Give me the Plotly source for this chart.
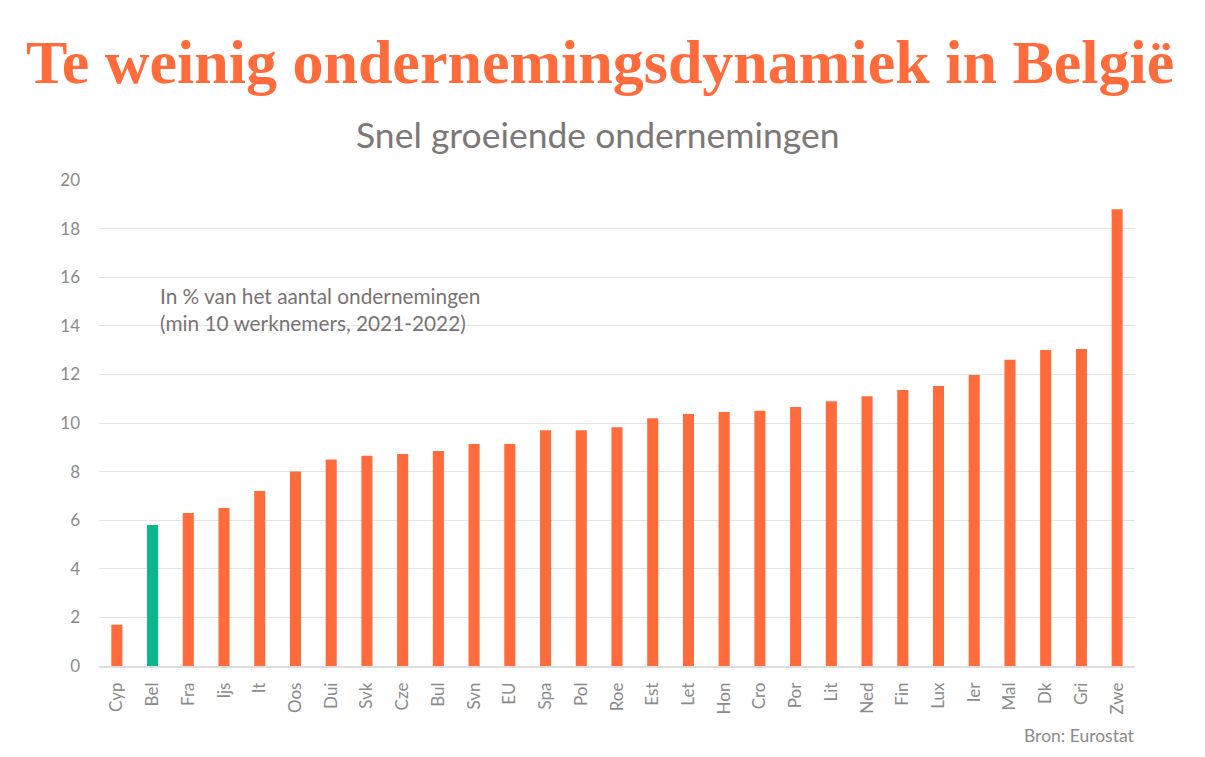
import plotly.graph_objects as go

categories = ["Cyp", "Bel", "Fra", "Ijs", "It", "Oos", "Dui", "Svk", "Cze", "Bul",
              "Svn", "EU", "Spa", "Pol", "Roe", "Est", "Let", "Hon", "Cro", "Por",
              "Lit", "Ned", "Fin", "Lux", "Ier", "Mal", "Dk", "Gri", "Zwe"]
values = [1.7, 5.8, 6.3, 6.5, 7.2, 8.0, 8.5, 8.65, 8.72, 8.85,
          9.14, 9.14, 9.7, 9.7, 9.83, 10.2, 10.37, 10.45, 10.5, 10.66,
          10.9, 11.1, 11.36, 11.52, 11.98, 12.6, 13.0, 13.05, 18.8]
highlight = "Bel"

ORANGE = "#FF6B3B"
GREEN = "#0CB58A"
colors = [GREEN if c == highlight else ORANGE for c in categories]

fig = go.Figure(go.Bar(x=categories, y=values, marker=dict(color=colors, line=dict(width=0)),
                       width=0.31))

W, H = 1205, 757
OFF = 8  # page body margin
L, T = 99 - OFF, 180 - OFF
R = W - (1135 - OFF)
B = H - (666 - OFF)
pw, ph = W - L - R, H - T - B

def px(x):
    return (x - OFF - L) / pw

def py(y):
    return (H - B - (y - OFF)) / ph

fig.update_layout(
    width=W, height=H,
    margin=dict(l=L, r=R, t=T, b=B),
    paper_bgcolor="white", plot_bgcolor="white",
    showlegend=False,
    font=dict(family="Lato", color="#8a8a8a"),
    xaxis=dict(tickangle=-90, tickfont=dict(size=17, color="#8a8a8a", family="Lato"),
               showgrid=False, showline=True, linecolor="#dddddd", linewidth=1.5,
               ticks="", ticklabelstandoff=8),
    yaxis=dict(range=[0, 20], dtick=2, tickfont=dict(size=17, color="#8a8a8a", family="Lato"),
               showgrid=True, gridcolor="#e3e3e3", gridwidth=1, zeroline=False,
               showline=False, ticks="", ticklabelstandoff=18),
    annotations=[
        dict(text="<b>Te weinig ondernemingsdynamiek in België</b>", xref="paper", yref="paper",
             x=px(24), y=py(62), xanchor="left", yanchor="middle", showarrow=False,
             font=dict(family="Liberation Serif", size=62, color=ORANGE)),
        dict(text="Snel groeiende ondernemingen", xref="paper", yref="paper",
             x=px(598), y=py(134), xanchor="center", yanchor="middle", showarrow=False,
             font=dict(family="Lato", size=35.5, color="#7d7777")),
        dict(text="In % van het aantal ondernemingen<br>(min 10 werknemers, 2021-2022)",
             xref="paper", yref="paper", x=px(158), y=py(281), xanchor="left", yanchor="top",
             align="left", showarrow=False,
             font=dict(family="Lato", size=20.8, color="#7a7272")),
        dict(text="Bron: Eurostat", xref="paper", yref="paper", x=px(1137), y=py(735),
             xanchor="right", yanchor="middle", showarrow=False,
             font=dict(family="Lato", size=17.5, color="#8a8a8a")),
    ],
)

fig.write_html("out.html")
